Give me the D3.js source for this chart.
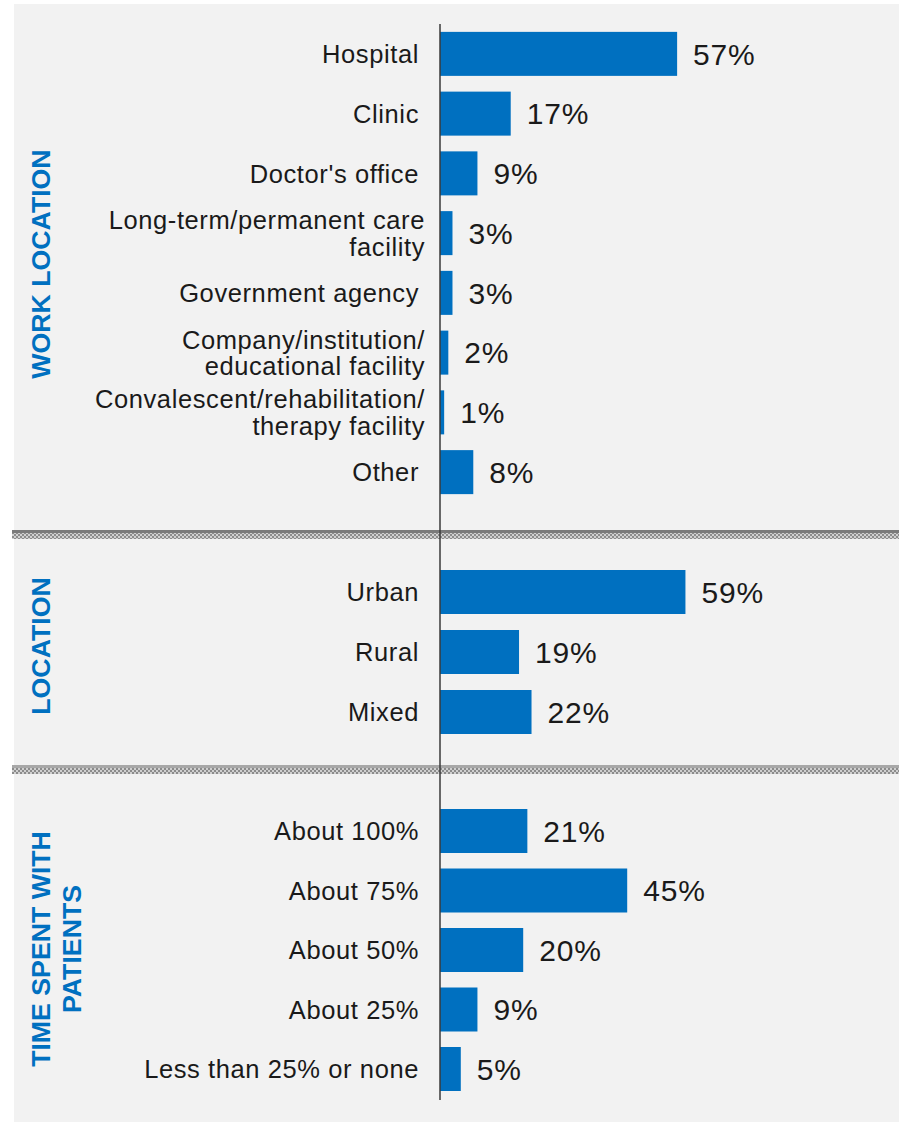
<!DOCTYPE html>
<html>
<head>
<meta charset="utf-8">
<script src="https://cdn.jsdelivr.net/npm/d3@7"></script>
<style>
  html, body { margin: 0; padding: 0; background: #ffffff; }
  svg { display: block; }
  text { font-family: "Liberation Sans", Arial, sans-serif; }
</style>
</head>
<body>
<svg id="chart" width="899" height="1122"></svg>
<script>
// Survey breakdown data, one group per panel
const workCategories = [
  "Hospital", "Clinic", "Doctor's office",
  "Long-term/permanent care\nfacility", "Government agency",
  "Company/institution/\neducational facility",
  "Convalescent/rehabilitation/\ntherapy facility", "Other"
];
const workValues = [57, 17, 9, 3, 3, 2, 1, 8];

const locationCategories = ["Urban", "Rural", "Mixed"];
const locationValues = [59, 19, 22];

const timeCategories = ["About 100%", "About 75%", "About 50%", "About 25%", "Less than 25% or none"];
const timeValues = [21, 45, 20, 9, 5];

const sectionTitles = [["WORK LOCATION"], ["LOCATION"], ["TIME SPENT WITH", "PATIENTS"]];

const BLUE = "#0070c0";
const svg = d3.select("#chart");

// panel background
svg.append("rect").attr("x", 14).attr("y", 4).attr("width", 885).attr("height", 1118).attr("fill", "#f2f2f2");

// hatched separator pattern
const defs = svg.append("defs");
const pat = defs.append("pattern").attr("id", "sep").attr("patternUnits", "userSpaceOnUse")
  .attr("width", 4).attr("height", 4);
pat.append("rect").attr("width", 4).attr("height", 4).attr("fill", "#d0d0d0");
pat.append("rect").attr("x", 0).attr("y", 0).attr("width", 2).attr("height", 2).attr("fill", "#8c8c8c");
pat.append("rect").attr("x", 2).attr("y", 2).attr("width", 2).attr("height", 2).attr("fill", "#8c8c8c");

const x = d3.scaleLinear().domain([0, 100]).range([440, 856]);

const sections = [
  { cats: workCategories, vals: workValues, range: [24, 502], title: sectionTitles[0], titleY: 264 },
  { cats: locationCategories, vals: locationValues, range: [562, 742], title: sectionTitles[1], titleY: 646 },
  { cats: timeCategories, vals: timeValues, range: [801.25, 1098.75], title: sectionTitles[2], titleY: 949 }
];

// separators between panels
[{ y: 530, line: "#7a7a7a" }, { y: 765, line: "#a8a8a8" }].forEach(s => {
  svg.append("rect").attr("x", 12).attr("y", s.y).attr("width", 887).attr("height", 3).attr("fill", s.line);
  svg.append("rect").attr("x", 12).attr("y", s.y + 3).attr("width", 887).attr("height", 6).attr("fill", "url(#sep)");
});

sections.forEach(sec => {
  const y = d3.scaleBand().domain(sec.cats).range(sec.range).paddingInner(0.26).paddingOuter(0.13);
  const g = svg.append("g");

  g.selectAll("rect.bar").data(sec.cats).join("rect")
    .attr("class", "bar")
    .attr("x", x(0))
    .attr("y", d => y(d) + y.bandwidth() / 2 - 22)
    .attr("width", (d, i) => x(sec.vals[i]) - x(0))
    .attr("height", 44)
    .attr("fill", BLUE);

  g.selectAll("text.val").data(sec.cats).join("text")
    .attr("class", "val")
    .attr("x", (d, i) => x(sec.vals[i]) + 16)
    .attr("y", d => y(d) + y.bandwidth() / 2)
    .attr("dy", "0.36em")
    .attr("font-size", 30)
    .attr("letter-spacing", 0.8)
    .attr("fill", "#1a1a1a")
    .text((d, i) => sec.vals[i] + "%");

  const labels = g.selectAll("text.cat").data(sec.cats).join("text")
    .attr("class", "cat")
    .attr("text-anchor", "end")
    .attr("font-size", 25.5)
    .attr("letter-spacing", 0.6)
    .attr("fill", "#1a1a1a");
  labels.each(function (d) {
    const lines = d.split("\n");
    const cy = y(d) + y.bandwidth() / 2;
    const t = d3.select(this);
    const xr = lines.length > 1 ? 425 : 419;
    lines.forEach((ln, k) => {
      t.append("tspan")
        .attr("x", xr)
        .attr("y", cy + (k - (lines.length - 1) / 2) * 26.5)
        .attr("dy", "0.36em")
        .text(ln);
    });
  });

  // rotated section title
  const tt = svg.append("text")
    .attr("transform", `translate(40,${sec.titleY}) rotate(-90)`)
    .attr("text-anchor", "middle")
    .attr("font-size", 26.7)
    .attr("font-weight", "bold")
    .attr("fill", BLUE);
  sec.title.forEach((ln, k) => {
    tt.append("tspan").attr("x", 0)
      .attr("y", (k * 31) + 9.5)
      .text(ln);
  });
});

// vertical baseline axis
svg.append("line").attr("x1", x(0)).attr("x2", x(0)).attr("y1", 24).attr("y2", 1100)
  .attr("stroke", "#3a3a3a").attr("stroke-width", 1.5);
</script>
</body>
</html>
